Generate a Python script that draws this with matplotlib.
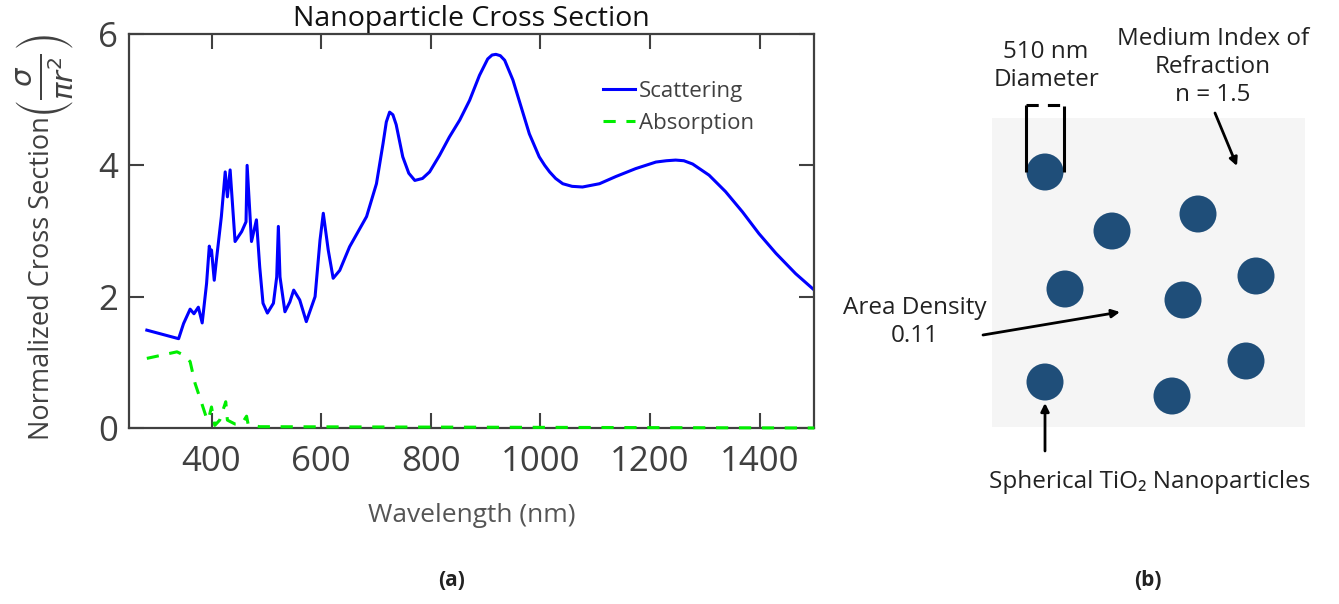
import matplotlib.pyplot as plt
from matplotlib.patches import Circle, Rectangle

plt.rcParams['font.family'] = ['Open Sans', 'DejaVu Sans']
plt.rcParams['mathtext.fontset'] = 'dejavusans'

# scattering / absorption spectra (nm, sigma / pi r^2)
scat_wl = [282, 340, 349, 361, 368, 376, 383, 391, 396, 399, 400, 405, 409, 418,
           425, 429, 434, 443, 455, 463, 465, 473, 482, 488, 494, 502, 513, 519,
           522, 525, 534, 543, 550, 561, 573, 589, 598, 604, 613, 622, 634, 652,
           683, 701, 713, 719, 725, 731, 737, 749, 760, 771, 785, 798, 816, 834,
           853, 871, 889, 904, 912, 919, 927, 935, 950, 965, 980, 998, 1008,
           1017, 1028, 1041, 1058, 1077, 1108, 1138, 1174, 1211, 1230, 1247,
           1262, 1278, 1308, 1338, 1369, 1399, 1430, 1466, 1500]
scat_val = [1.49, 1.36, 1.59, 1.81, 1.74, 1.84, 1.60, 2.20, 2.77, 2.63, 2.71,
            2.25, 2.56, 3.22, 3.90, 3.52, 3.93, 2.84, 2.99, 3.14, 4.00, 2.84,
            3.17, 2.45, 1.90, 1.75, 1.90, 2.30, 3.07, 2.30, 1.77, 1.92, 2.10,
            1.95, 1.62, 2.00, 2.86, 3.27, 2.71, 2.28, 2.40, 2.76, 3.22, 3.72,
            4.33, 4.66, 4.81, 4.77, 4.62, 4.13, 3.88, 3.77, 3.80, 3.90, 4.15,
            4.43, 4.69, 4.99, 5.37, 5.62, 5.68, 5.69, 5.67, 5.60, 5.30, 4.89,
            4.48, 4.13, 4.00, 3.90, 3.80, 3.72, 3.68, 3.67, 3.72, 3.83, 3.95,
            4.05, 4.07, 4.08, 4.07, 4.02, 3.85, 3.60, 3.29, 2.96, 2.66, 2.35,
            2.10]

abs_wl = [282, 337, 352, 361, 370, 382, 391, 394, 400, 406, 415, 426, 429,
          443, 455, 464, 467, 488, 1500]
abs_val = [1.06, 1.16, 1.10, 1.01, 0.68, 0.38, 0.15, 0.12, 0.32, 0.04, 0.12,
           0.40, 0.12, 0.06, 0.06, 0.18, 0.05, 0.02, 0.0]

x_ticks = [400, 600, 800, 1000, 1200, 1400]
y_ticks = [0, 2, 4, 6]

# particle sketch (pixel coordinates of the right panel)
particle_x = [1045, 1112, 1198, 1065, 1183, 1256, 1246, 1045, 1172]
particle_y = [172, 231, 214, 289, 300, 276, 361, 382, 396]
particle_r = 18.5

W, H = 1339, 604
fig = plt.figure(figsize=(W / 100, H / 100), dpi=100)

# ---- (a) spectrum
ax = fig.add_axes([129.3 / W, 1 - 428 / H, 685 / W, 394 / H])
ax.plot(scat_wl, scat_val, color='#0000ff', lw=2.2, label='Scattering')
ax.plot(abs_wl, abs_val, color='#00ee00', lw=2.2, dashes=(4, 3.5),
        label='Absorption', zorder=3, clip_on=False)
ax.set_xlim(250, 1500)
ax.set_ylim(0, 6)
ax.set_xticks(x_ticks)
ax.set_yticks(y_ticks)
ax.tick_params(direction='in', length=11, width=1.5, color='#404040',
               labelsize=25, labelcolor='#404040', top=True, right=True)
ax.tick_params(axis='x', pad=12)
ax.tick_params(axis='y', pad=8)
for s in ax.spines.values():
    s.set_color('#404040')
    s.set_linewidth(1.6)

ax.set_title('Nanoparticle Cross Section', fontsize=20.5, color='#111111', pad=6)
ax.set_xlabel('Wavelength (nm)', fontsize=19, color='#555555')
ax.xaxis.set_label_coords(0.5, -0.19)
ax.set_ylabel('Normalized Cross Section', fontsize=19.5, color='#404040',
              ha='center', va='center')
ax.yaxis.set_label_coords(-0.127, 0.38)
ax.text(-0.123, 0.893, r'$\left(\frac{\sigma}{\pi r^2}\right)$', transform=ax.transAxes,
        rotation=90, fontsize=30, color='#404040', ha='center', va='center')

ax.legend(loc='upper left', bbox_to_anchor=(0.676, 0.91), frameon=False,
          fontsize=16, handlelength=1.4, handletextpad=0.2, borderpad=0,
          labelspacing=0.5, labelcolor='#404040')

# ---- (b) sketch
ax2 = fig.add_axes([830 / W, 0, (W - 830) / W, 1])
ax2.set_xlim(830, W)
ax2.set_ylim(H, 0)
ax2.axis('off')

ax2.add_patch(Rectangle((992, 118), 313, 309, facecolor='#f5f5f5', edgecolor='none'))
for cx, cy in zip(particle_x, particle_y):
    ax2.add_patch(Circle((cx, cy), particle_r, facecolor='#1f4e79', edgecolor='none'))

# diameter bracket
ax2.plot([1026, 1026], [105, 172], color='black', lw=2.2, solid_capstyle='butt')
ax2.plot([1064, 1064], [106, 172], color='black', lw=2.2, solid_capstyle='butt')
ax2.plot([1026, 1064], [105, 105], color='black', lw=2.2, dashes=(4, 3))

txt = dict(fontsize=17.5, color='#222222', ha='center', va='center', linespacing=1.2)
ax2.text(1046, 66, '510 nm\nDiameter', **txt)
ax2.text(1213, 67, 'Medium Index of\nRefraction\nn = 1.5', **txt)
ax2.text(915, 322, 'Area Density\n0.11', **txt)
ax2.text(1150, 482, 'Spherical TiO₂ Nanoparticles', **txt)

arrow = dict(arrowstyle='-|>', color='black', lw=2, mutation_scale=12,
             shrinkA=0, shrinkB=0)
ax2.annotate('', xy=(1237, 166), xytext=(1215, 113), arrowprops=arrow)
ax2.annotate('', xy=(1120, 312), xytext=(983, 335), arrowprops=arrow)
ax2.annotate('', xy=(1045, 403), xytext=(1045, 451), arrowprops=arrow)

fig.text(452 / W, 1 - 580 / H, '(a)', fontsize=15, fontweight='bold',
         ha='center', va='center', color='#222222')
fig.text(1148 / W, 1 - 580 / H, '(b)', fontsize=15, fontweight='bold',
         ha='center', va='center', color='#222222')

fig.savefig('out.png', dpi=100)
